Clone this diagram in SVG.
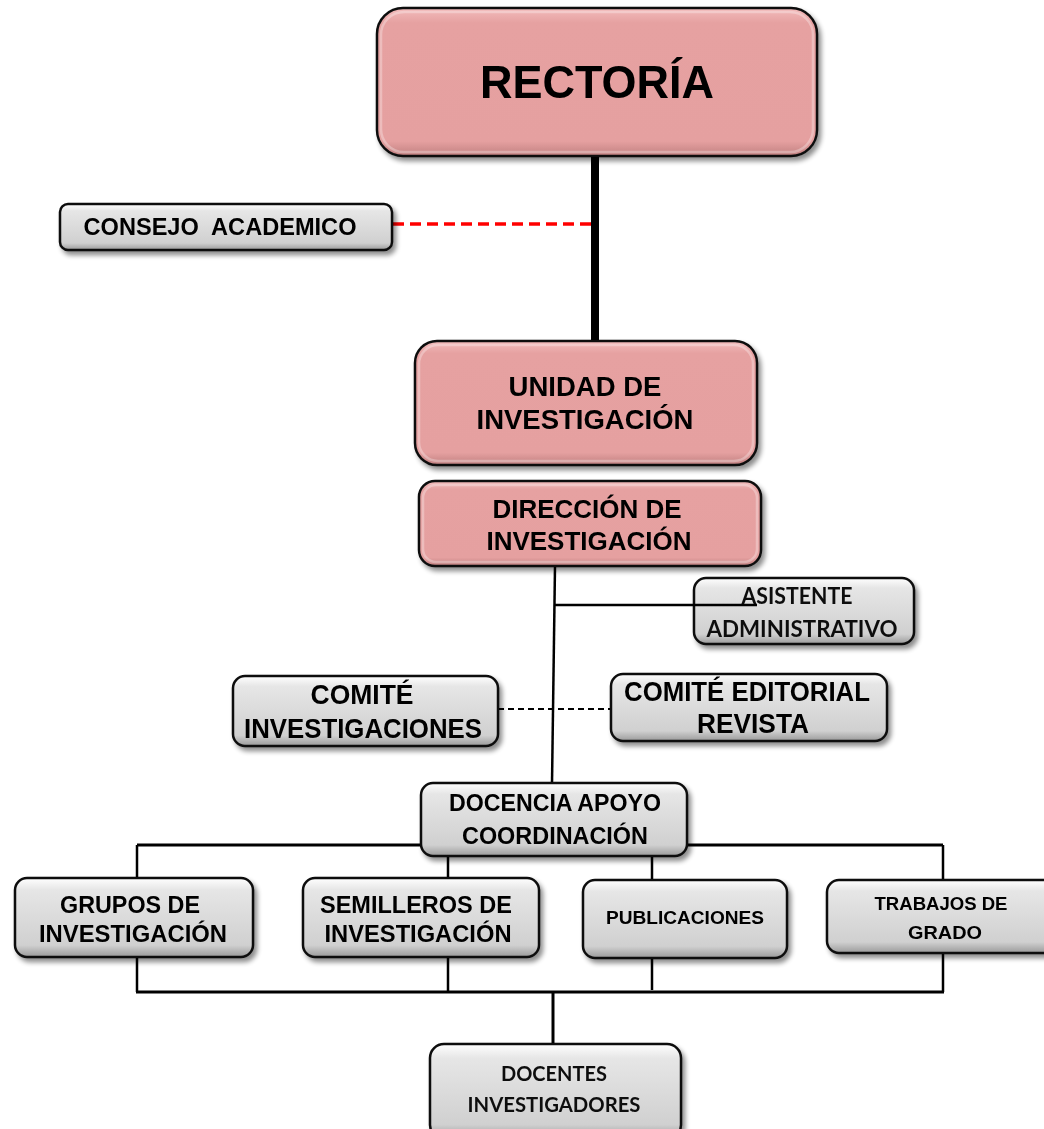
<svg xmlns="http://www.w3.org/2000/svg" width="1044" height="1129" viewBox="0 0 1044 1129">
<style>
.pink{fill:url(#gp);stroke:#111;stroke-width:2.5}
.gray{fill:url(#gg);stroke:#111;stroke-width:2.5}
.hl{fill:none;stroke:#fff;stroke-opacity:0.3;stroke-width:2.5}
.t{font-family:"Liberation Sans",Arial,sans-serif;font-weight:bold;fill:#000;text-anchor:middle}
.c{font-family:"Lato","Liberation Sans",sans-serif;font-weight:bold;fill:#111;text-anchor:middle}
.ln{stroke:#000;fill:none}
</style>
<defs>
<linearGradient id="gp" x1="0" y1="0" x2="0" y2="1">
<stop offset="0" stop-color="#f2bcbc"/>
<stop offset="0.1" stop-color="#e6a1a1"/>
<stop offset="0.9" stop-color="#e5a0a0"/>
<stop offset="1" stop-color="#c08080"/>
</linearGradient>
<linearGradient id="gg" x1="0" y1="0" x2="0" y2="1">
<stop offset="0" stop-color="#ffffff"/>
<stop offset="0.15" stop-color="#e6e6e6"/>
<stop offset="0.85" stop-color="#d0d0d0"/>
<stop offset="1" stop-color="#9a9a9a"/>
</linearGradient>
<filter id="sh" x="-10%" y="-10%" width="125%" height="135%">
<feGaussianBlur in="SourceAlpha" stdDeviation="2.5"/>
<feOffset dx="3" dy="4" result="o"/>
<feComponentTransfer><feFuncA type="linear" slope="0.45"/></feComponentTransfer>
<feMerge><feMergeNode/><feMergeNode in="SourceGraphic"/></feMerge>
</filter>
</defs>
<rect width="1044" height="1129" fill="#fff"/>

<g id="connectors">
<line class="ln" x1="595" y1="156" x2="595" y2="342" stroke-width="8"/>
<line x1="393" y1="224" x2="592" y2="224" stroke="#f00" stroke-width="3.5" stroke-dasharray="11,6"/>
<line class="ln" x1="555" y1="566" x2="552" y2="784" stroke-width="2.5"/>
<line class="ln" x1="498" y1="709" x2="612" y2="709" stroke-width="2" stroke-dasharray="6,4"/>
<line class="ln" x1="137" y1="845" x2="943" y2="845" stroke-width="3"/>
<line class="ln" x1="137" y1="845" x2="137" y2="879" stroke-width="2.5"/>
<line class="ln" x1="448" y1="845" x2="448" y2="879" stroke-width="2.5"/>
<line class="ln" x1="652" y1="845" x2="652" y2="881" stroke-width="2.5"/>
<line class="ln" x1="943" y1="845" x2="943" y2="881" stroke-width="2.5"/>
<line class="ln" x1="137" y1="957" x2="137" y2="992" stroke-width="2.5"/>
<line class="ln" x1="448" y1="957" x2="448" y2="992" stroke-width="2.5"/>
<line class="ln" x1="652" y1="958" x2="652" y2="990" stroke-width="2.5"/>
<line class="ln" x1="943" y1="953" x2="943" y2="992" stroke-width="2.5"/>
<line class="ln" x1="136" y1="992" x2="944" y2="992" stroke-width="3"/>
<line class="ln" x1="553" y1="992" x2="553" y2="1045" stroke-width="3"/>
</g>

<g id="rectoria" filter="url(#sh)">
<rect class="pink" x="377" y="8" width="440" height="148" rx="26"/>
<rect class="hl" x="381" y="12" width="432" height="140" rx="23"/>
<text class="t" x="597" y="98" font-size="46" textLength="234" lengthAdjust="spacingAndGlyphs">RECTORÍA</text>
</g>

<g id="consejo" filter="url(#sh)">
<rect class="gray" x="60" y="204" width="332" height="46" rx="8"/>
<text class="t" x="220" y="235" font-size="23" textLength="273" lengthAdjust="spacingAndGlyphs" xml:space="preserve">CONSEJO  ACADEMICO</text>
</g>

<g id="unidad" filter="url(#sh)">
<rect class="pink" x="415" y="341" width="342" height="124" rx="22"/>
<rect class="hl" x="419" y="345" width="334" height="116" rx="19"/>
<text class="t" x="585" y="396" font-size="27.5">UNIDAD DE</text>
<text class="t" x="585" y="429" font-size="27.5">INVESTIGACIÓN</text>
</g>

<g id="direccion" filter="url(#sh)">
<rect class="pink" x="419" y="481" width="342" height="85" rx="16"/>
<rect class="hl" x="423" y="485" width="334" height="77" rx="13"/>
<text class="t" x="587" y="518" font-size="26">DIRECCIÓN DE</text>
<text class="t" x="589" y="550" font-size="26">INVESTIGACIÓN</text>
</g>

<g id="asistente" filter="url(#sh)">
<rect class="gray" x="694" y="578" width="220" height="66" rx="12"/>
<text class="c" x="797" y="604" font-size="22" textLength="111" lengthAdjust="spacingAndGlyphs">ASISTENTE</text>
<text class="c" x="802" y="637" font-size="22" textLength="191" lengthAdjust="spacingAndGlyphs">ADMINISTRATIVO</text>
</g>
<line class="ln" x1="555" y1="605" x2="757" y2="605" stroke-width="2.5"/>

<g id="comite-inv" filter="url(#sh)">
<rect class="gray" x="233" y="676" width="265" height="70" rx="12"/>
<text class="t" x="362" y="704" font-size="28" textLength="103" lengthAdjust="spacingAndGlyphs">COMITÉ</text>
<text class="t" x="363" y="738" font-size="28" textLength="238" lengthAdjust="spacingAndGlyphs">INVESTIGACIONES</text>
</g>

<g id="comite-ed" filter="url(#sh)">
<rect class="gray" x="611" y="674" width="276" height="67" rx="12"/>
<text class="t" x="747" y="701" font-size="27" textLength="246" lengthAdjust="spacingAndGlyphs">COMITÉ EDITORIAL</text>
<text class="t" x="753" y="733" font-size="27" textLength="112" lengthAdjust="spacingAndGlyphs">REVISTA</text>
</g>

<g id="docencia" filter="url(#sh)">
<rect class="gray" x="421" y="783" width="266" height="73" rx="12"/>
<text class="t" x="555" y="811" font-size="24" textLength="212" lengthAdjust="spacingAndGlyphs">DOCENCIA APOYO</text>
<text class="t" x="555" y="844" font-size="24" textLength="186" lengthAdjust="spacingAndGlyphs">COORDINACIÓN</text>
</g>

<g id="grupos" filter="url(#sh)">
<rect class="gray" x="15" y="878" width="238" height="79" rx="12"/>
<text class="t" x="130" y="913" font-size="24" textLength="140" lengthAdjust="spacingAndGlyphs">GRUPOS DE</text>
<text class="t" x="133" y="942" font-size="24" textLength="188" lengthAdjust="spacingAndGlyphs">INVESTIGACIÓN</text>
</g>

<g id="semilleros" filter="url(#sh)">
<rect class="gray" x="303" y="878" width="236" height="79" rx="12"/>
<text class="t" x="416" y="913" font-size="24" textLength="192" lengthAdjust="spacingAndGlyphs">SEMILLEROS DE</text>
<text class="t" x="418" y="942" font-size="24" textLength="187" lengthAdjust="spacingAndGlyphs">INVESTIGACIÓN</text>
</g>

<g id="publicaciones" filter="url(#sh)">
<rect class="gray" x="583" y="880" width="204" height="78" rx="12"/>
<text class="t" x="685" y="924" font-size="19" textLength="158" lengthAdjust="spacingAndGlyphs">PUBLICACIONES</text>
</g>

<g id="trabajos" filter="url(#sh)">
<rect class="gray" x="827" y="880" width="230" height="73" rx="12"/>
<text class="t" x="941" y="910" font-size="19" textLength="133" lengthAdjust="spacingAndGlyphs">TRABAJOS DE</text>
<text class="t" x="945" y="939" font-size="19" textLength="74" lengthAdjust="spacingAndGlyphs">GRADO</text>
</g>

<g id="docentes" filter="url(#sh)">
<rect class="gray" x="430" y="1044" width="251" height="95" rx="14"/>
<text class="c" x="554" y="1081" font-size="20" textLength="106" lengthAdjust="spacingAndGlyphs">DOCENTES</text>
<text class="c" x="554" y="1112" font-size="20" textLength="173" lengthAdjust="spacingAndGlyphs">INVESTIGADORES</text>
</g>
</svg>
